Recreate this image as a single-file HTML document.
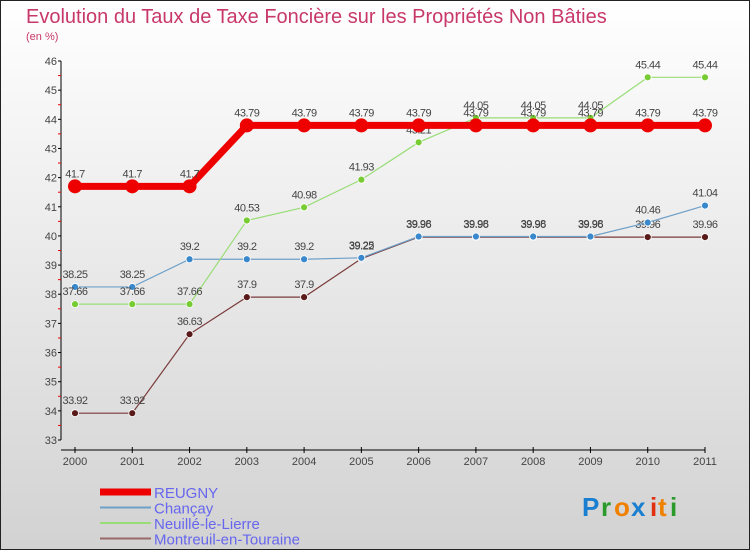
<!DOCTYPE html>
<html><head><meta charset="utf-8"><style>
body{margin:0;width:750px;height:550px;overflow:hidden;font-family:"Liberation Sans",sans-serif}
</style></head><body>
<svg width="750" height="550" xmlns="http://www.w3.org/2000/svg">
<defs><linearGradient id="bg" x1="0" y1="0" x2="0" y2="1"><stop offset="0" stop-color="#ffffff"/><stop offset="1" stop-color="#d2d2d2"/></linearGradient></defs>
<rect x="0.5" y="0.5" width="749" height="549" fill="url(#bg)" stroke="#222"/>
<text x="26" y="23" font-size="20" fill="#c8386a">Evolution du Taux de Taxe Foncière sur les Propriétés Non Bâties</text>
<text x="26" y="40" font-size="11" fill="#c8386a">(en %)</text>
<g id="axes"></g><g id="series"></g><g id="legend"></g>
<g font-size="26" font-weight="bold">
<text x="582" y="516" fill="#1a7fd0">P</text><text x="601" y="516" fill="#2a9a2a">r</text><text x="614" y="516" fill="#f08000">o</text><text x="631" y="516" fill="#1a7fd0">x</text><text x="650" y="516" fill="#e03010">i</text><text x="658" y="516" fill="#f08000">t</text><text x="670" y="516" fill="#2a9a2a">i</text></g>
</svg>
<script>
const years=["2000","2001","2002","2003","2004","2005","2006","2007","2008","2009","2010","2011"];
const yTicks=[33,34,35,36,37,38,39,40,41,42,43,44,45,46];
const reugny=[41.7,41.7,41.7,43.79,43.79,43.79,43.79,43.79,43.79,43.79,43.79,43.79];
const chancay=[38.25,38.25,39.2,39.2,39.2,39.25,39.98,39.98,39.98,39.98,40.46,41.04];
const neuille=[37.66,37.66,37.66,40.53,40.98,41.93,43.21,44.05,44.05,44.05,45.44,45.44];
const montreuil=[33.92,33.92,36.63,37.9,37.9,39.22,39.96,39.96,39.96,39.96,39.96,39.96];
const NS="http://www.w3.org/2000/svg";
const xS=i=>75+i*(705-75)/11;
const yS=v=>440-(v-33)*(440-61)/13;
function mk(tag,attrs,parent,txt){const e=document.createElementNS(NS,tag);for(const k in attrs)e.setAttribute(k,attrs[k]);if(txt!==undefined)e.textContent=txt;parent.appendChild(e);return e;}
const ax=document.getElementById('axes');
let e=mk('line',{x1:61,y1:yS(46),x2:61,y2:yS(33),stroke:'#000'},ax);


e=mk('line',{x1:61,y1:450,x2:705,y2:450,stroke:'#000'},ax);


yTicks.forEach((v,i)=>{
 mk('line',{x1:58,x2:61,y1:yS(v),y2:yS(v),stroke:'#000'},ax);
 if(i<yTicks.length-1)mk('line',{x1:58,x2:61,y1:yS(v+0.5),y2:yS(v+0.5),stroke:'#e00'},ax);
 const t=mk('text',{x:57,y:yS(v)+4,'text-anchor':'end','font-size':11,fill:'#444'},ax,String(v));
 
 
});
years.forEach((y,i)=>{
 mk('line',{x1:xS(i),x2:xS(i),y1:447,y2:453,stroke:'#000'},ax);
 const t=mk('text',{x:xS(i),y:465,'text-anchor':'middle','font-size':11,fill:'#444'},ax,y);
 
 
});
const sg=document.getElementById('series');
const series=[
 {n:'montreuil',d:montreuil,c:'#7a3a3a',pc:'#5a1a1a',w:1.2,r:3.5},
 {n:'chancay',d:chancay,c:'#6fa0c8',pc:'#3a88cc',w:1.2,r:3.5},
 {n:'neuille',d:neuille,c:'#99dd77',pc:'#77cc33',w:1.2,r:3.5},
 {n:'reugny',d:reugny,c:'#ee0000',pc:'#ee0000',w:7,r:7}];
series.forEach(s=>{
 const g=mk('g',{},sg);
 
 
 const l=mk('polyline',{points:s.d.map((v,i)=>xS(i)+','+yS(v)).join(' '),fill:'none',stroke:s.c,'stroke-width':s.w},g);
 
 
 s.d.forEach((v,i)=>{
  const p=mk('circle',{cx:xS(i),cy:yS(v),r:s.r,fill:s.pc,stroke:'#fff','stroke-width':s.n==='reugny'?0:0.8},g);
  
  
  const t=mk('text',{x:xS(i),y:yS(v)-9,'text-anchor':'middle','font-size':11,fill:'#444','letter-spacing':'-0.5'},g,String(v));
  
  
 });
});
const lg=document.getElementById('legend');
const leg=[['REUGNY','#ee0000',7],['Chançay','#6fa0c8',2],['Neuillé-le-Lierre','#99dd77',2],['Montreuil-en-Touraine','#9a6a6a',2]];
leg.forEach((L,i)=>{
 const y=492+i*15.5;
 const g=mk('g',{},lg);
 
 
 mk('line',{x1:100,x2:151,y1:y,y2:y,stroke:L[1],'stroke-width':L[2]},g);
 mk('text',{x:154,y:y+6,'font-size':15,fill:'#6666ee'},g,L[0]);
});
</script>
</body></html>
